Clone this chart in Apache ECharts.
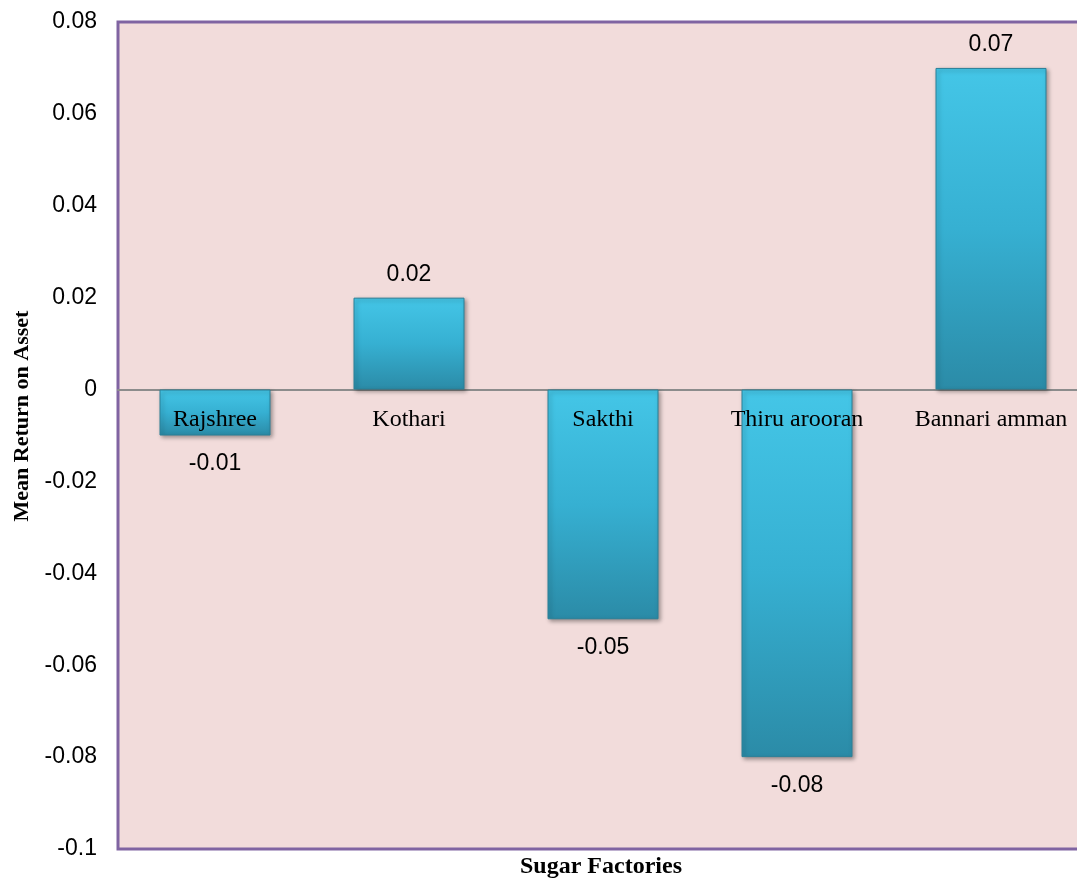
<!DOCTYPE html>
<html>
<head>
<meta charset="utf-8">
<script src="https://cdn.jsdelivr.net/npm/echarts@6/dist/echarts.min.js"></script>
<style>
html,body{margin:0;padding:0;background:#fff;}
#c{width:1077px;height:882px;}
</style>
</head>
<body>
<div id="c"></div>
<script>
const categories = ['Rajshree', 'Kothari', 'Sakthi', 'Thiru arooran', 'Bannari amman'];
const values = [-0.01, 0.02, -0.05, -0.08, 0.07];
const yTicks = { min: -0.1, max: 0.08, interval: 0.02 };
const xTitle = 'Sugar Factories';
const yTitle = 'Mean Return on Asset';

const chart = echarts.init(document.getElementById('c'));
const barColor = new echarts.graphic.LinearGradient(0, 0, 0, 1, [
  { offset: 0, color: '#44c6e7' },
  { offset: 0.5, color: '#36b0d2' },
  { offset: 1, color: '#2b8ba7' }
]);
chart.setOption({
  animation: false,
  backgroundColor: '#ffffff',
  grid: {
    left: 118, right: -11, top: 22, bottom: 33, outerBoundsMode: 'none', containLabel: false,
    show: true, backgroundColor: '#f2dcdb', borderColor: '#8064a2', borderWidth: 3
  },
  graphic: [
    {
      type: 'text', x: 601, y: 867,
      style: { text: xTitle, align: 'center', verticalAlign: 'middle',
        font: 'bold 24px "Liberation Serif"', fill: '#000' }
    },
    {
      type: 'text', x: 22, y: 416, rotation: Math.PI / 2,
      style: { text: yTitle, align: 'center', verticalAlign: 'middle',
        font: 'bold 22px "Liberation Serif"', fill: '#000' }
    }
  ],
  xAxis: {
    type: 'category', data: categories,
    axisLine: { onZero: true, lineStyle: { color: '#8c8c8c', width: 2 } },
    axisTick: { show: false },
    axisLabel: { show: false },
    splitLine: { show: false }
  },
  yAxis: {
    type: 'value', min: yTicks.min, max: yTicks.max, interval: yTicks.interval,
    axisLine: { show: false }, axisTick: { show: false }, splitLine: { show: false },
    axisLabel: {
      margin: 21, fontFamily: 'Liberation Sans', fontSize: 23, color: '#000',
      formatter: v => { const r = Math.round(v * 100) / 100; return r === 0 ? '0' : String(r); }
    }
  },
  series: [
    {
      type: 'bar', barWidth: 111,
      data: values.map(v => ({
        value: v,
        label: { show: true, position: v < 0 ? 'bottom' : 'top', distance: v < 0 ? 17 : 12 }
      })),
      itemStyle: {
        color: barColor, borderColor: '#2a8098', borderWidth: 1,
        shadowColor: 'rgba(0,0,0,0.35)', shadowBlur: 4, shadowOffsetX: 2, shadowOffsetY: 2
      },
      label: {
        fontFamily: 'Liberation Sans', fontSize: 23, color: '#000',
        formatter: p => String(p.value)
      }
    },
    {
      type: 'scatter', symbolSize: 0, silent: true, z: 5,
      itemStyle: { opacity: 1 },
      data: categories.map(c => [c, 0]),
      label: {
        show: true, position: 'bottom', distance: 18, opacity: 1,
        fontFamily: 'Liberation Serif', fontSize: 24, color: '#000',
        formatter: p => p.data[0]
      }
    }
  ]
});
</script>
</body>
</html>
